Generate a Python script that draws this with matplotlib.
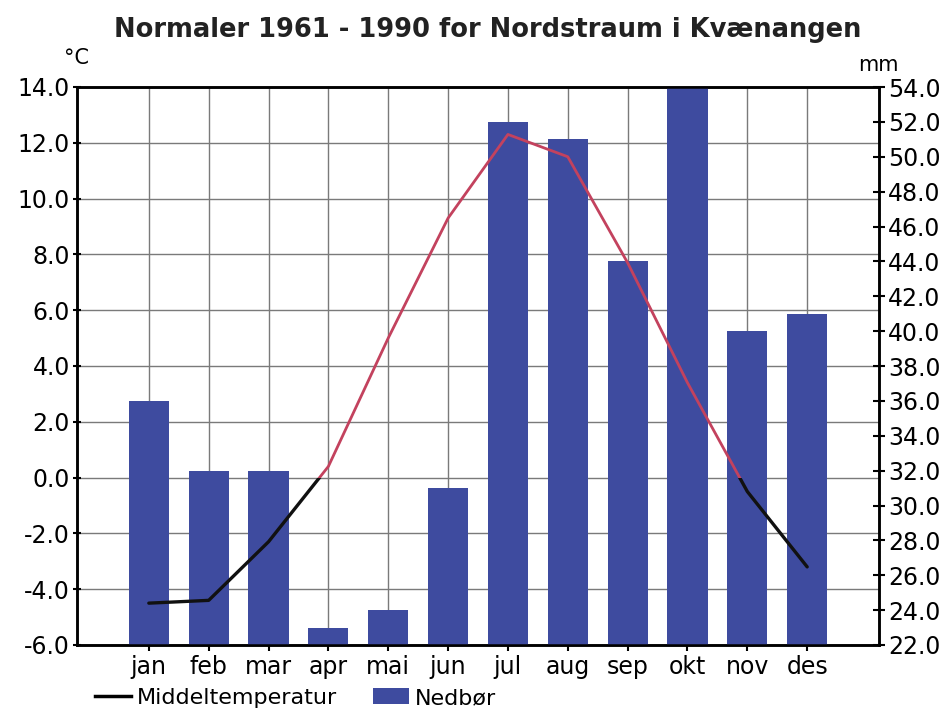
import numpy as np
import matplotlib
matplotlib.use("Agg")
import matplotlib.pyplot as plt
from matplotlib.patches import Rectangle
from matplotlib.lines import Line2D
from matplotlib.patches import Patch
from matplotlib.ticker import FormatStrFormatter

plt.rcParams["font.family"] = ["DejaVu Sans"]
plt.rcParams["axes.unicode_minus"] = False

# Normaler 1961-1990, Nordstraum i Kvænangen
months = ["jan", "feb", "mar", "apr", "mai", "jun",
          "jul", "aug", "sep", "okt", "nov", "des"]
temp = [-4.5, -4.4, -2.3, 0.4, 5.0, 9.3, 12.3, 11.5, 7.7, 3.4, -0.5, -3.2]
precip = [36, 32, 32, 23, 24, 31, 52, 51, 44, 55, 40, 41]

temp_ticks = np.arange(-6, 14.1, 2)
mm_ticks = np.arange(22, 54.1, 2)

bar_color = "#3e4b9f"
x = np.arange(1, 13)

fig = plt.figure(figsize=(9.46, 7.13), dpi=100)
pos = [77 / 946, 1 - 645 / 713, (879 - 77) / 946, (645 - 87) / 713]

# background axes: temperature scale, grid
ax = fig.add_axes(pos)
ax.set_xlim(-0.2, 13.2)
ax.set_ylim(-6, 14)
ax.set_yticks(temp_ticks)
ax.yaxis.set_major_formatter(FormatStrFormatter("%.1f"))
ax.set_xticks(x)
ax.set_xticklabels(months)
ax.grid(True, color="#7a7a7a", linewidth=1.0)
ax.set_axisbelow(True)
ax.tick_params(axis="y", direction="inout", length=6, width=1.5, labelsize=17, pad=2)
ax.tick_params(axis="x", direction="inout", length=8, width=1.5, labelsize=17, pad=3)
for s in ax.spines.values():
    s.set_linewidth(1.8)

# bars on precipitation scale
axb = ax.twinx()
axb.set_ylim(22, 54)
axb.set_yticks(mm_ticks)
axb.yaxis.set_major_formatter(FormatStrFormatter("%.1f"))
axb.tick_params(axis="y", direction="inout", length=9, width=1.5, labelsize=17, pad=2)
axb.bar(x, precip, width=0.67, color=bar_color, zorder=2)
axb.patch.set_visible(False)
for s in axb.spines.values():
    s.set_linewidth(1.8)

# temperature line on top: black below 0 °C, red above
axl = fig.add_axes(pos, sharex=ax, sharey=ax)
axl.axis("off")
axl.patch.set_visible(False)
black, = axl.plot(x, temp, color="#111111", linewidth=2.4, solid_capstyle="round")
red, = axl.plot(x, temp, color="#c3425e", linewidth=2.0, solid_capstyle="round")
black.set_clip_path(Rectangle((-1, -30), 20, 30, transform=axl.transData))
red.set_clip_path(Rectangle((-1, 0), 20, 30, transform=axl.transData))

# titles and units
fig.text(488 / 946, 1 - 30 / 713, "Normaler 1961 - 1990 for Nordstraum i Kvænangen",
         ha="center", va="center", fontsize=18.5, fontweight="bold", color="#222222")
fig.text(76 / 946, 1 - 58 / 713, "°C", ha="center", va="center", fontsize=15)
fig.text(878 / 946, 1 - 65 / 713, "mm", ha="center", va="center", fontsize=15)

handles = [Line2D([0], [0], color="black", linewidth=2.5),
           Patch(facecolor=bar_color)]
fig.legend(handles, ["Middeltemperatur", "Nedbør"], loc="center left",
           bbox_to_anchor=(95 / 946, 1 - 698 / 713), ncol=2, frameon=False,
           fontsize=16, handlelength=1.6, handletextpad=0.3, columnspacing=1.6,
           borderaxespad=0, borderpad=0)

fig.savefig("out.png", dpi=100)
